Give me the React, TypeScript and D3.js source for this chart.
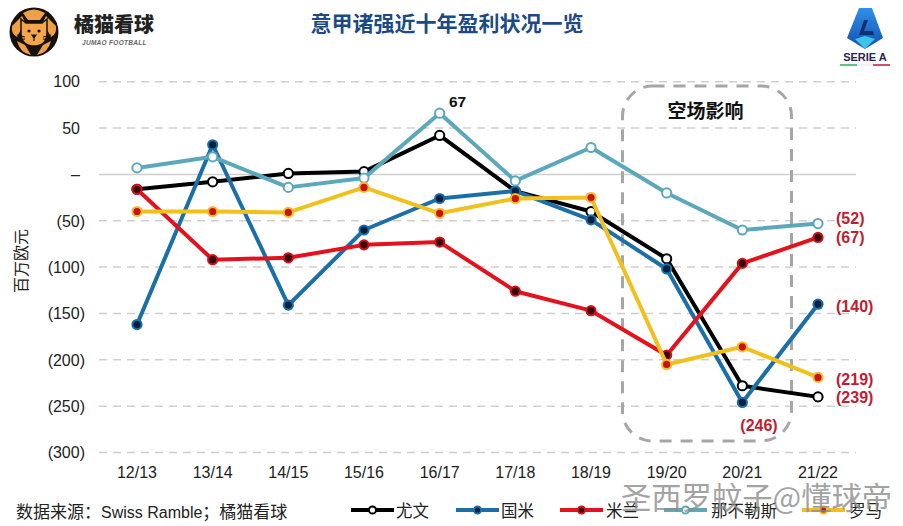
import React from "react";
import * as d3 from "d3";

const seasons = ["12/13","13/14","14/15","15/16","16/17","17/18","18/19","19/20","20/21","21/22"];
const juventus = [-16,-8,1,3,42,-18,-40,-91,-228,-240];
const inter = [-162,32,-141,-60,-26,-18,-49,-102,-246,-140];
const milan = [-16,-92,-90,-76,-73,-126,-147,-195,-96,-68];
const napoli = [7,19,-14,-4,66,-7,29,-20,-60,-53];
const roma = [-40,-40,-41,-14,-42,-26,-25,-205,-186,-219];
const yTicks = [100,50,0,-50,-100,-150,-200,-250,-300];
const yTickLabels = ["100","50","–","(50)","(100)","(150)","(200)","(250)","(300)"];

const seriesList = [
  { name: "尤文", values: juventus, color: "#000000", dot: "#ffffff", dotStroke: "#000000", lx: 351, tx: 396 },
  { name: "国米", values: inter, color: "#1b6fa8", dot: "#04203f", dotStroke: "#1b6fa8", lx: 456, tx: 501 },
  { name: "米兰", values: milan, color: "#e3121c", dot: "#3a0008", dotStroke: "#d3101c", lx: 560, tx: 606 },
  { name: "那不勒斯", values: napoli, color: "#5ba8bd", dot: "#ffffff", dotStroke: "#5ba8bd", lx: 664, tx: 711 },
  { name: "罗马", values: roma, color: "#f2c01d", dot: "#c8140f", dotStroke: "#f6b92a", lx: 802, tx: 849 },
];
const endLabels = [
  { text: "(52)", season: "21/22", value: -47, dx: 18 },
  { text: "(67)", season: "21/22", value: -68, dx: 18 },
  { text: "(140)", season: "21/22", value: -142, dx: 18 },
  { text: "(219)", season: "21/22", value: -221, dx: 18 },
  { text: "(239)", season: "21/22", value: -240, dx: 18 },
  { text: "(246)", season: "20/21", value: -271, dx: -2 },
];

const x = d3.scalePoint<string>().domain(seasons).range([137, 818]);
const y = d3.scaleLinear().domain([-300, 100]).range([452.5, 81.7]);
const line = d3.line<number>().x((_, i) => x(seasons[i])!).y(d => y(d));
const sans = "'Liberation Sans','Noto Sans CJK SC',sans-serif";
const cjk = "'Noto Sans CJK SC','Liberation Sans',sans-serif";

function TigerLogo() {
  return (
    <g>
      <circle cx={34} cy={32} r={24.5} fill="#17110d" />
      <path d="M23 13 Q34 6 45 13 L40 20 L28 20 Z M12 26 L22 16 L25 22 L17 37 Q11 34 12 26 Z M56 26 L46 16 L43 22 L51 37 Q57 34 56 26 Z M17 41 L25 45 L31 55 Q20 53 17 41 Z M51 41 L43 45 L37 55 Q48 53 51 41 Z" fill="#f0a044" />
      <path d="M21 19 L26 23 L42 23 L47 19 L47 34 Q46 46 34 46 Q22 46 21 34 Z" fill="#f3a64c" stroke="#17110d" strokeWidth={1.5} />
      <circle cx={29} cy={31} r={1.6} fill="#17110d" />
      <circle cx={39} cy={31} r={1.6} fill="#17110d" />
      <path d="M32 35 H36 L34 38 Z M34 38 V41 M17 35 L25 37 M17 40 L25 39 M51 35 L43 37 M51 40 L43 39" stroke="#17110d" strokeWidth={1.2} fill="#17110d" />
    </g>
  );
}

function SerieALogo() {
  return (
    <g>
      <defs>
        <linearGradient id="sa" x1="0" x2="0" y1="0" y2="1">
          <stop offset="0" stopColor="#2f8fea" />
          <stop offset="1" stopColor="#1250ae" />
        </linearGradient>
      </defs>
      <path d="M859 8 H872 L883 38 L865 49 L847 38 Z" fill="url(#sa)" />
      <path d="M855 39 L865 49 L875 39 L865 36 Z" fill="#3ec4e8" />
      <path d="M864 20 L868 20 L864 31 H873 L874 35 H859 Z" fill="#10306e" />
      <text x={865} y={61} textAnchor="middle" fontFamily={sans} fontWeight={700} fontSize={11} fill="#2a2450">SERIE A</text>
      <rect x={840} y={64.2} width={17} height={1.6} fill="#3fae6a" />
      <rect x={857} y={64.2} width={16} height={1.6} fill="#eeeeee" />
      <rect x={873} y={64.2} width={17} height={1.6} fill="#c8234a" />
    </g>
  );
}

export default function App() {
  return (
    <svg width={903} height={526} viewBox="0 0 903 526" style={{ position: "absolute", left: 0, top: 0, background: "#fff" }}>
      <TigerLogo />
      <text x={74} y={32} fontFamily={cjk} fontWeight={900} fontSize={20} fill="#222">橘猫看球</text>
      <text x={82} y={45} fontFamily={sans} fontStyle="italic" fontWeight={700} fontSize={6.5} letterSpacing={0.3} fill="#666">JUMAO FOOTBALL</text>
      <text x={447} y={31} textAnchor="middle" fontFamily={cjk} fontWeight={700} fontSize={21} fill="#1c4a84">意甲诸强近十年盈利状况一览</text>
      <SerieALogo />

      {yTicks.map((t, i) => (
        <g key={t}>
          <line x1={99} x2={856} y1={y(t)} y2={y(t)} stroke="#cfcfcf" strokeWidth={1.5} strokeDasharray={t === 0 ? undefined : "8 6"} />
          <text x={t < 0 ? 85 : 80} y={y(t)} dy="0.36em" textAnchor="end" fontFamily={sans} fontSize={16} fill="#222">{yTickLabels[i]}</text>
        </g>
      ))}
      {seasons.map(s => (
        <text key={s} x={x(s)!} y={478} textAnchor="middle" fontFamily={sans} fontSize={16} fill="#222">{s}</text>
      ))}
      <text transform="translate(27,261) rotate(-90)" textAnchor="middle" fontFamily={cjk} fontSize={16} fill="#222">百万欧元</text>

      <rect x={622.5} y={86} width={169} height={355} rx={30} fill="none" stroke="#a6a6a6" strokeWidth={3} strokeDasharray="12 9" />
      <text x={705.5} y={118} textAnchor="middle" fontFamily={cjk} fontWeight={700} fontSize={19} fill="#111">空场影响</text>

      {seriesList.map(s => (
        <g key={s.name}>
          <path d={line(s.values)!} fill="none" stroke={s.color} strokeWidth={4} strokeLinejoin="round" />
          {s.values.map((v, i) => (
            <circle key={i} cx={x(seasons[i])!} cy={y(v)} r={4.6} fill={s.dot} stroke={s.dotStroke} strokeWidth={2} />
          ))}
        </g>
      ))}

      <text x={457.5} y={107} textAnchor="middle" fontFamily={sans} fontWeight={700} fontSize={15.5} fill="#111">67</text>
      {endLabels.map(l => (
        <text key={l.text} x={x(l.season)! + l.dx} y={y(l.value)} dy="0.36em" textAnchor="start" fontFamily={sans} fontWeight={700} fontSize={16} fill="#c0202f">{l.text}</text>
      ))}

      <text x={16} y={518} fontFamily={cjk} fontSize={17} fill="#222">数据来源：<tspan fontFamily={sans} fontSize={16}>Swiss Ramble</tspan>；橘猫看球</text>
      {seriesList.map(s => (
        <g key={s.name}>
          <line x1={s.lx} x2={s.lx + 43} y1={510} y2={510} stroke={s.color} strokeWidth={4} />
          <circle cx={s.lx + 21.5} cy={510} r={3.6} fill={s.dot} stroke={s.dotStroke} strokeWidth={2} />
          <text x={s.tx} y={516.5} fontFamily={cjk} fontSize={16.5} fill="#222">{s.name}</text>
        </g>
      ))}
      <text x={621} y={509} fontFamily={cjk} fontSize={30.3} fill="#8a8a8a" fillOpacity={0.8}>圣西罗蚊子@懂球帝</text>
    </svg>
  );
}
